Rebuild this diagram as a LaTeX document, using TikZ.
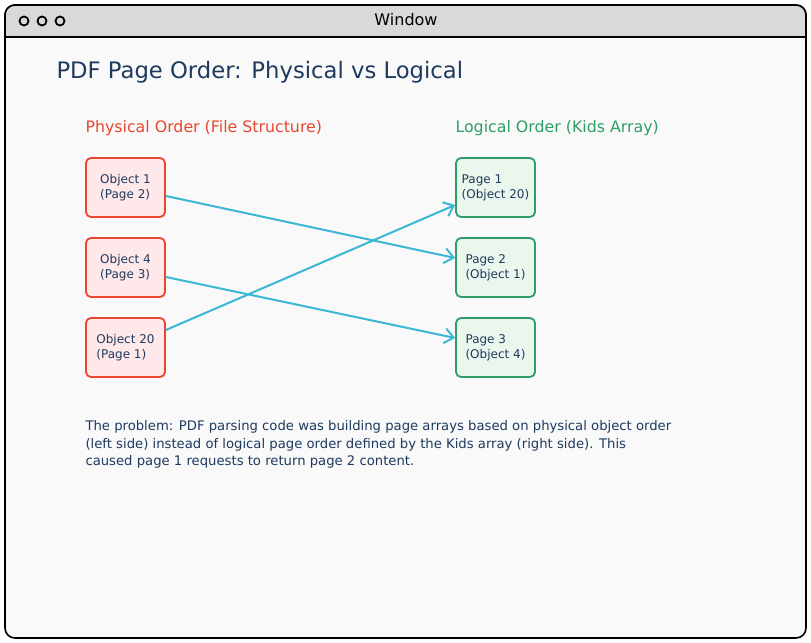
\documentclass[tikz,border=0pt]{standalone}
\usepackage{fontspec}
\setmainfont{DejaVu Sans}
\usepackage{xcolor}
\usetikzlibrary{arrows.meta}

\definecolor{winbar}{HTML}{D9D9D9}
\definecolor{winbg}{HTML}{F9F9F9}
\definecolor{inkdark}{HTML}{1E3A5F}
\definecolor{physred}{HTML}{E8472F}
\definecolor{physfill}{HTML}{FFE8EA}
\definecolor{logigreen}{HTML}{2F9E66}
\definecolor{logifill}{HTML}{EBF7EC}
\definecolor{linkcyan}{HTML}{3AB7D4}

\tikzset{
  objbox/.style={draw=physred, fill=physfill, line width=1.8bp, rounded corners=5bp,
    minimum width=79bp, minimum height=59bp, align=left, text=inkdark,
    font=\fontsize{12bp}{15bp}\selectfont},
  pagebox/.style={objbox, draw=logigreen, fill=logifill},
  link/.style={draw=linkcyan, line width=2bp, -{Straight Barb[length=9bp,width=15bp,line width=2bp]}},
  heading/.style={anchor=west, font=\fontsize{15.8bp}{18bp}\selectfont}
}

\begin{document}
\begin{tikzpicture}[x=1bp, y=-1bp]
\useasboundingbox (0,0) rectangle (811,643);
% window frame
\draw[line width=1.6bp, fill=winbg, rounded corners=10bp] (5,5) rectangle (806,638);
\begin{scope}
\clip[rounded corners=10bp] (5,5) rectangle (806,638);
\fill[winbar] (5,5) rectangle (806,37);
\end{scope}
\draw[line width=1.6bp, rounded corners=10bp] (5,37) |- (806,5) -- (806,37);
\draw[line width=1.6bp] (5,37) -- (806,37);
\foreach \cx in {24,42,60}
  \draw[line width=1.8bp] (\cx,21) circle (4.5bp);
\node[font=\fontsize{16bp}{18bp}\selectfont] (wintitle) at (406,20) {Window};

% headings
\node[anchor=west, text=inkdark, font=\fontsize{22.7bp}{26bp}\selectfont] (title) at (53,72) {PDF Page Order: Physical vs Logical};
\node[heading, text=physred] (physhead) at (82,128) {Physical Order (File Structure)};
\node[heading, text=logigreen] (logihead) at (452,128) {Logical Order (Kids Array)};

% physical order
\node[objbox] (obj1) at (125.5,187.5) {Object 1\\(Page 2)};
\node[objbox] (obj4) at (125.5,267.5) {Object 4\\(Page 3)};
\node[objbox] (obj20) at (125.5,347.5) {Object 20\\(Page 1)};

% logical order
\node[pagebox] (pg1) at (495.5,187.5) {Page 1\\(Object 20)};
\node[pagebox] (pg2) at (495.5,267.5) {Page 2\\(Object 1)};
\node[pagebox] (pg3) at (495.5,347.5) {Page 3\\(Object 4)};

% links
\draw[link] ([yshift=-8.5bp]obj1.east) -- ([yshift=9.5bp]pg2.west);
\draw[link] ([yshift=-9.5bp]obj4.east) -- ([yshift=9.5bp]pg3.west);
\draw[link] ([yshift=17.5bp]obj20.east) -- ([yshift=-17.5bp]pg1.west);

% note
\node[anchor=north west, align=left, text=inkdark, font=\fontsize{13.2bp}{17.5bp}\selectfont] (note) at (82,417)
  {The problem: PDF parsing code was building page arrays based on physical object order\\
   (left side) instead of logical page order defined by the Kids array (right side). This\\
   caused page 1 requests to return page 2 content.};
\end{tikzpicture}
\end{document}
